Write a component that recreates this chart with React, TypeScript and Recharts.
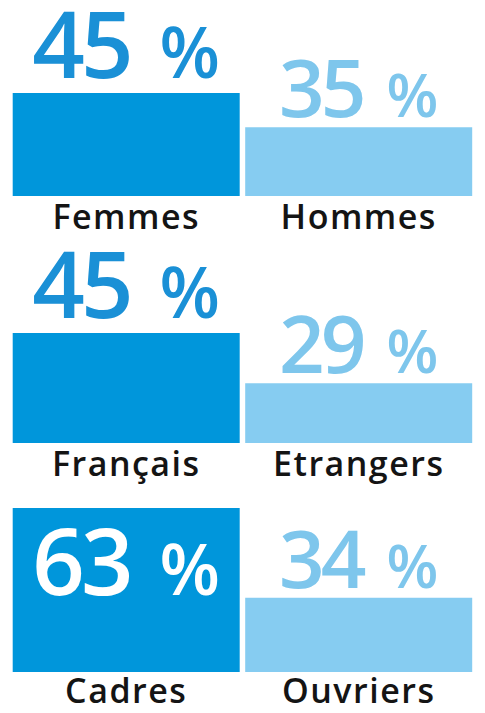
import { Bar, BarChart, Cell, LabelList, XAxis, YAxis } from "recharts";

const sexLabels = ["Femmes", "Hommes"];
const sexValues = [45, 35];
const nationLabels = ["Français", "Etrangers"];
const nationValues = [45, 29];
const jobLabels = ["Cadres", "Ouvriers"];
const jobValues = [63, 34];

const DARK = "#0096db";
const LIGHT = "#86ccf1";
const DARK_TEXT = "#1a90d6";
const LIGHT_TEXT = "#7ec6ec";
const FONT = "'Open Sans', sans-serif";

function ValueLabel(props: any) {
  const { x, y, width, value, index, inside } = props;
  const first = index === 0;
  const big = first ? 92 : 80;
  const pct = first ? 70 : 60;
  const gap = first ? 30 : 24;
  const isInside = first && inside;
  const fill = isInside ? "#ffffff" : first ? DARK_TEXT : LIGHT_TEXT;
  const baseY = isInside ? y + 87 : y - (first ? 15 : 10);
  return (
    <text
      x={x + width / 2}
      y={baseY}
      textAnchor="middle"
      fill={fill}
      fontFamily={FONT}
      fontWeight={600}
    >
      <tspan fontSize={big} letterSpacing={-4}>{value}</tspan>
      <tspan fontSize={pct} dx={gap}>%</tspan>
    </text>
  );
}

function CategoryTick(props: any) {
  const { x, y, payload, dy } = props;
  return (
    <text
      x={x}
      y={y + dy}
      textAnchor="middle"
      fill="#141414"
      fontFamily={FONT}
      fontWeight={600}
      fontSize={34}
      letterSpacing={1.5}
    >
      {payload.value}
    </text>
  );
}

type PanelProps = {
  labels: string[];
  values: number[];
  height: number;
  top: number;
  axisHeight: number;
  domain: [number, number];
  inside?: boolean;
  labelDy?: number;
};

function Panel({ labels, values, height, top, axisHeight, domain, inside, labelDy = 33 }: PanelProps) {
  const data = labels.map((name, i) => ({ name, value: values[i] }));
  return (
    <BarChart
      width={485}
      height={height}
      data={data}
      margin={{ top, right: 10, bottom: 0, left: 10 }}
      barCategoryGap={2.7}
    >
      <XAxis
        dataKey="name"
        axisLine={false}
        tickLine={false}
        tickSize={0}
        tickMargin={0}
        height={axisHeight}
        interval={0}
        tick={(p: any) => <CategoryTick {...p} dy={labelDy} />}
      />
      <YAxis hide domain={domain} allowDataOverflow />
      <Bar dataKey="value" isAnimationActive={false}>
        {data.map((d, i) => (
          <Cell key={d.name} fill={i === 0 ? DARK : LIGHT} />
        ))}
        <LabelList dataKey="value" content={(p: any) => <ValueLabel {...p} inside={inside} />} />
      </Bar>
    </BarChart>
  );
}

export default function App() {
  return (
    <div style={{ position: "absolute", left: 0, top: 0, width: 485, height: 713, background: "#fff" }}>
      <style>{`.recharts-surface{overflow:visible}`}</style>
      <Panel labels={sexLabels} values={sexValues} height={245} top={41.5} axisHeight={49} domain={[15, 60]} />
      <Panel labels={nationLabels} values={nationValues} height={240} top={41} axisHeight={42} domain={[10, 60]} />
      <Panel labels={jobLabels} values={jobValues} height={228} top={1.4} axisHeight={41} domain={[10, 70]} inside labelDy={31} />
    </div>
  );
}
